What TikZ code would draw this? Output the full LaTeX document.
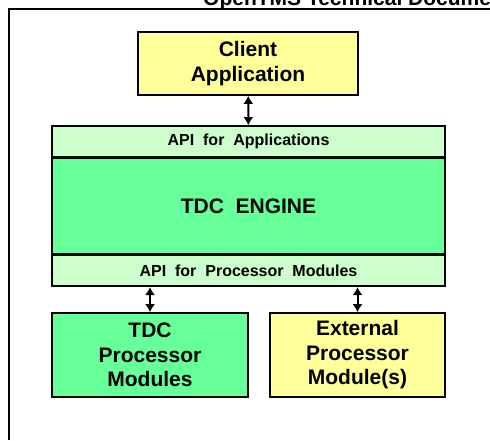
\documentclass[tikz,border=0pt]{standalone}
\usepackage{fontspec}
\setmainfont{Liberation Sans}
\usetikzlibrary{positioning, arrows.meta}

\begin{document}
\begin{tikzpicture}[x=1pt, y=-1pt,
    box/.style={draw=black, line width=1.6pt, align=center, inner sep=0pt,
                font=\bfseries\fontsize{21}{24.5}\selectfont},
    apibox/.style={box, fill=apiColour, minimum width=393pt, minimum height=31pt,
                   font=\bfseries\fontsize{16}{19}\selectfont},
    biarrow/.style={line width=2pt, {Latex[length=8pt,width=10pt]}-{Latex[length=8pt,width=10pt]}}]
    % Define colours
    \definecolor{clientColour}{HTML}{FFFF99}
    \definecolor{apiColour}{HTML}{CCFFCC}
    \definecolor{engineColour}{HTML}{66FF99}

  % Page size of the reference
  \useasboundingbox (0,0) rectangle (490,440);
  \clip (0,0) rectangle (490,440);

  % Header, cut off by the top edge
  \node[anchor=base west, inner sep=0pt, font=\bfseries\fontsize{21}{24}\selectfont] (title) at (203,5.5) {OpenTMS Technical Documentation};

  % Frame lines
  \draw[line width=2pt] (9,440) -- (9,9) -- (490,9);

  % Client on top
  \node[box, fill=clientColour, minimum width=220pt, minimum height=63pt] (client) at (248,63.5) {Client\\Application};

  % The engine with its two API layers
  \node[apibox] (apiApp) at (248.5,141.5) {API\ \ for\ \ Applications};
  \node[box, fill=engineColour, minimum width=393pt, minimum height=95pt, below=0pt of apiApp] (engine) {TDC\ \ ENGINE};
  \node[apibox, below=0pt of engine] (apiProc) {API\ \ for\ \ Processor\ \ Modules};

  % Processor modules
  \node[box, fill=engineColour, minimum width=196pt, minimum height=84pt] (tdcMods) at (150,355) {TDC\\Processor\\Modules};
  \node[box, fill=clientColour, minimum width=175pt, minimum height=84pt] (extMods) at (357.5,355) {External\\Processor\\Module(s)};

  % Connectors
  \draw[biarrow] (client) -- (apiApp);
  \draw[biarrow] (apiProc.south -| tdcMods.north) -- (tdcMods.north);
  \draw[biarrow] (apiProc.south -| extMods.north) -- (extMods.north);

\end{tikzpicture}
\end{document}
